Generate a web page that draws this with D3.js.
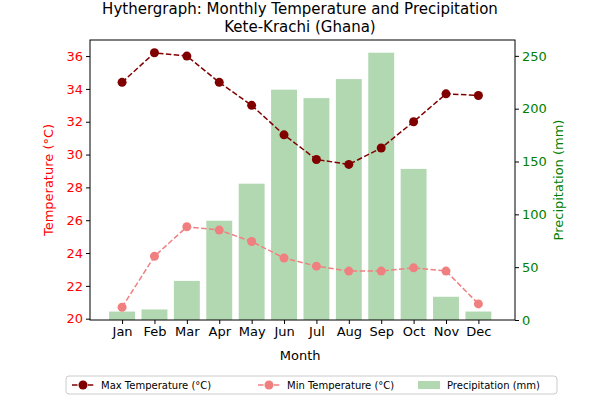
<!DOCTYPE html>
<html><head><meta charset="utf-8">
<script src="https://cdn.jsdelivr.net/npm/d3@7"></script>
<style>body{margin:0;background:#fff}text{font-family:"DejaVu Sans",sans-serif}</style>
</head><body><svg width="600" height="400"></svg>
<script>
var months = ["Jan","Feb","Mar","Apr","May","Jun","Jul","Aug","Sep","Oct","Nov","Dec"];
var maxTemp = [34.4,36.2,36.0,34.4,33.0,31.2,29.7,29.4,30.4,32.0,33.7,33.6];
var minTemp = [20.7,23.8,25.6,25.4,24.7,23.7,23.2,22.9,22.9,23.1,22.9,20.9];
var precip = [8,10,37,94,129,218,210,228,253,143,22,8];
var tempTicks = [20,22,24,26,28,30,32,34,36];
var precipTicks = [0,50,100,150,200,250];

var svg = d3.select("svg");
var L = 90, R = 515, T = 40, B = 320;
var x = d3.scaleLinear().domain([-0.99,12.13]).range([L,R]);
var step = x(1) - x(0);
var yT = d3.scaleLinear().domain([19.92,36.98]).range([B,T]);
var yP = d3.scaleLinear().domain([0,265]).range([B,T]);

svg.append("g").selectAll("rect").data(precip).enter().append("rect")
  .attr("x", function(d,i){ return x(i) - step*0.4; })
  .attr("width", step*0.8)
  .attr("y", function(d){ return yP(d); })
  .attr("height", function(d){ return B - yP(d); })
  .style("fill", "#b2d8b2");

function series(data, color){
  var line = d3.line().x(function(d,i){ return x(i); }).y(function(d){ return yT(d); });
  svg.append("path").datum(data).attr("d", line)
    .style("fill","none").style("stroke",color).style("stroke-width",1.5).style("stroke-dasharray","5.5,2.4");
  svg.append("g").selectAll("circle").data(data).enter().append("circle")
    .attr("cx", function(d,i){ return x(i); }).attr("cy", function(d){ return yT(d); })
    .attr("r", 4.5).style("fill", color);
}
series(maxTemp, "#800000");
series(minTemp, "#f08080");

svg.append("rect").attr("x",L).attr("y",T).attr("width",R-L).attr("height",B-T)
  .style("fill","none").style("stroke","#000").style("stroke-width",1);

var gx = svg.append("g").attr("transform","translate(0,"+B+")")
  .call(d3.axisBottom(x).tickValues(d3.range(12)).tickFormat(function(i){ return months[i]; }).tickSize(4).tickSizeOuter(0));
var gl = svg.append("g").attr("transform","translate("+L+",0)")
  .call(d3.axisLeft(yT).tickValues(tempTicks).tickSize(4).tickSizeOuter(0));
var gr = svg.append("g").attr("transform","translate("+R+",0)")
  .call(d3.axisRight(yP).tickValues(precipTicks).tickSize(4).tickSizeOuter(0));
[gx,gl,gr].forEach(function(g){ g.select(".domain").remove(); g.selectAll("text").style("font-size","13px").style("font-family","DejaVu Sans"); });
gl.selectAll("text").style("fill","red");
gr.selectAll("text").style("fill","green");

svg.append("text").attr("x",300).attr("y",14).attr("text-anchor","middle").style("font-size","15px").text("Hythergraph: Monthly Temperature and Precipitation");
svg.append("text").attr("x",300).attr("y",32).attr("text-anchor","middle").style("font-size","15px").text("Kete-Krachi (Ghana)");
svg.append("text").attr("x",x(5.5)).attr("y",360).attr("text-anchor","middle").style("font-size","13px").text("Month");
svg.append("text").attr("transform","translate(53,180) rotate(-90)").attr("text-anchor","middle").style("font-size","13px").style("fill","red").text("Temperature (°C)");
svg.append("text").attr("transform","translate(563,180) rotate(-90)").attr("text-anchor","middle").style("font-size","13px").style("fill","green").text("Precipitation (mm)");

var lg = svg.append("g");
lg.append("rect").attr("x",66).attr("y",376).attr("width",491).attr("height",18).attr("rx",3)
  .style("fill","#fff").style("stroke","#ccc");
var items = [
  {label:"Max Temperature (°C)", color:"#800000", x:72},
  {label:"Min Temperature (°C)", color:"#f08080", x:258},
  {label:"Precipitation (mm)", color:"#b2d8b2", x:418, bar:true}
];
items.forEach(function(it){
  if (it.bar) {
    lg.append("rect").attr("x",it.x).attr("y",381).attr("width",22).attr("height",8).style("fill",it.color);
  } else {
    lg.append("line").attr("x1",it.x).attr("x2",it.x+22).attr("y1",385).attr("y2",385)
      .style("stroke",it.color).style("stroke-width",1.5).style("stroke-dasharray","5.5,2.4");
    lg.append("circle").attr("cx",it.x+11).attr("cy",385).attr("r",4.5).style("fill",it.color);
  }
  lg.append("text").attr("x",it.x+29).attr("y",389).style("font-size","10px").text(it.label);
});
</script></body></html>
